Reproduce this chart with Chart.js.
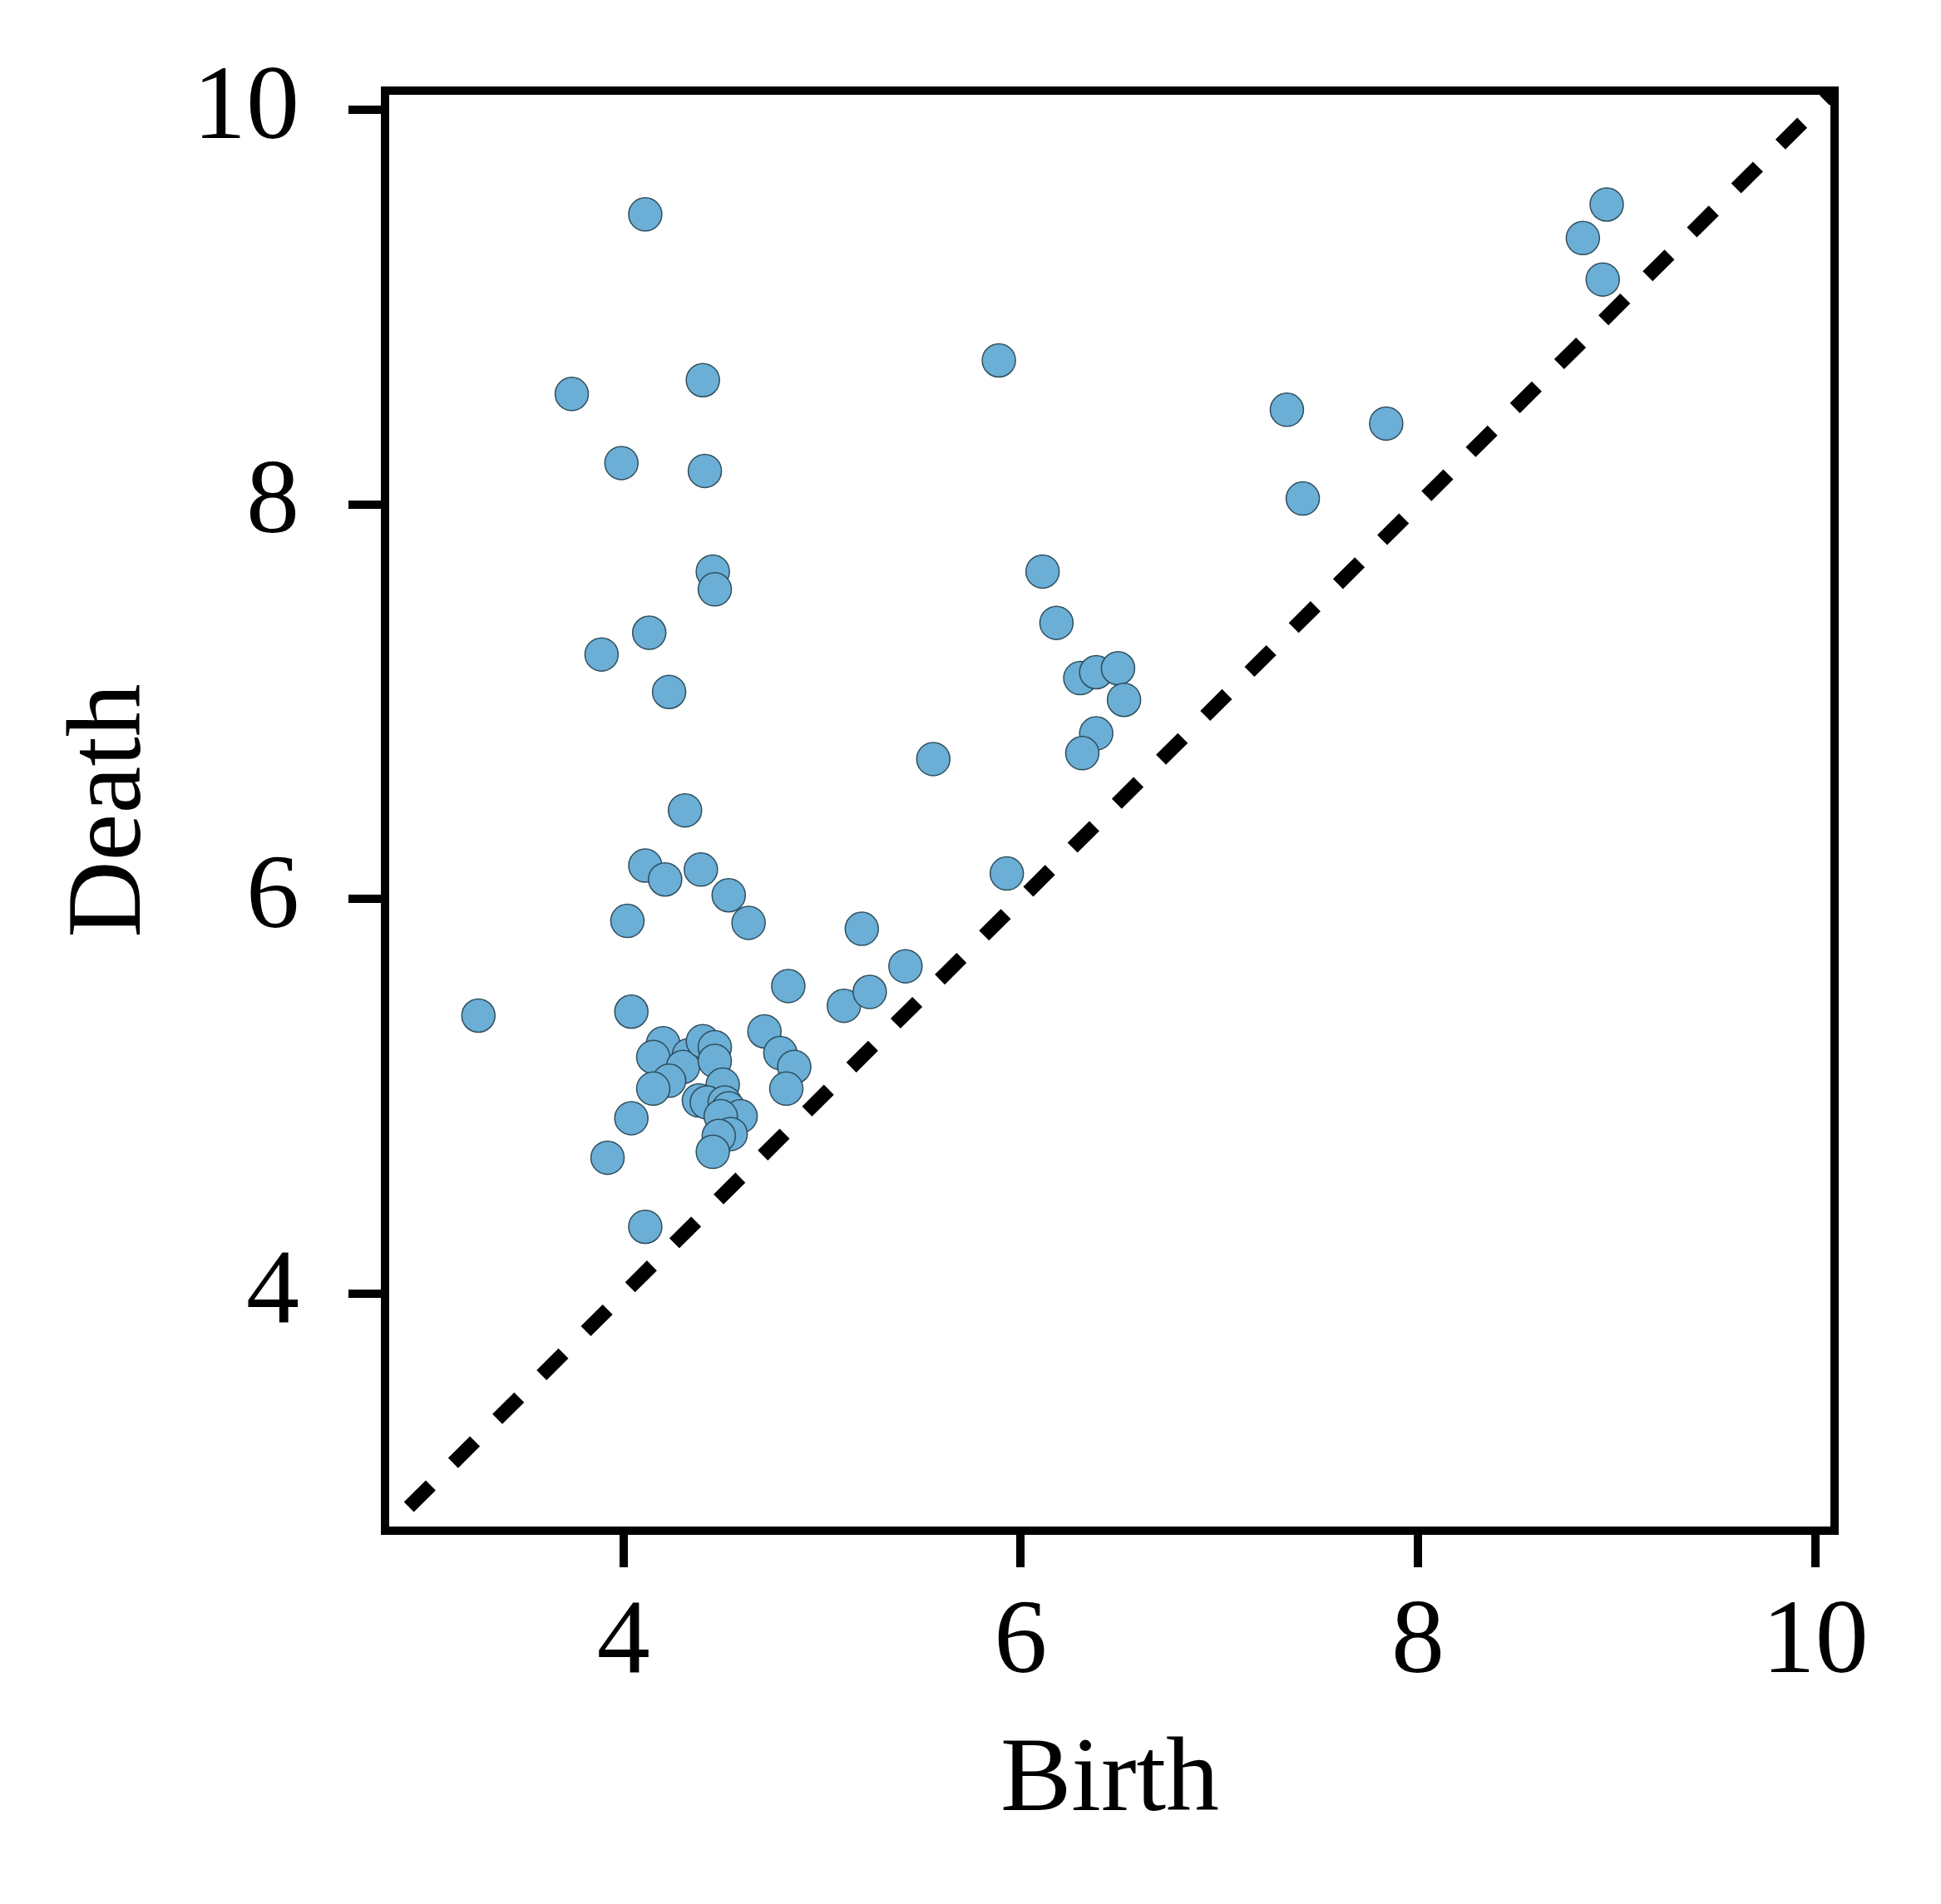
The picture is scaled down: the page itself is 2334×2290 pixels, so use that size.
<!DOCTYPE html>
<html>
<head>
<meta charset="utf-8">
<script src="https://cdn.jsdelivr.net/npm/chart.js@4"></script>
<style>
  html, body { margin: 0; padding: 0; background: #fff; }
  #wrap { width: 2334px; height: 2290px; }
</style>
</head>
<body>
<div id="wrap"><canvas id="c" width="2334" height="2290"></canvas></div>
<script>
// persistence points
const birth = [
  3.27, 4.11, 3.74, 4.40, 3.99, 4.41, 4.45, 4.46, 3.89, 4.13,
  4.23, 4.31, 4.11, 4.21, 4.39, 4.53, 4.02, 4.63,
  4.04, 4.20, 4.15, 4.33, 4.30, 4.23, 4.15, 4.40, 4.46, 4.46,
  4.50, 4.38, 4.42, 4.51, 4.53, 4.59, 4.49, 4.54, 4.48, 4.45,
  4.04, 3.92, 4.71, 4.79, 4.86, 4.82, 4.83,
  5.11, 5.24, 5.20, 5.42, 5.56, 5.93, 5.89,
  6.11, 6.18, 6.30, 6.38, 6.49, 6.52, 6.38, 6.31,
  7.34, 7.42, 7.84, 8.83, 8.95, 8.93, 4.11
];
const death = [
  5.41, 9.47, 8.56, 8.63, 8.21, 8.17, 7.66, 7.57, 7.24, 7.35,
  7.05, 6.45, 6.17, 6.10, 6.15, 6.02, 5.89, 5.88,
  5.43, 5.27, 5.20, 5.21, 5.15, 5.08, 5.04, 5.28, 5.25, 5.18,
  5.06, 4.98, 4.97, 4.97, 4.94, 4.90, 4.90, 4.81, 4.80, 4.72,
  4.89, 4.69, 5.33, 5.22, 5.15, 5.04, 5.56,
  5.46, 5.53, 5.85, 5.66, 6.71, 6.13, 8.73,
  7.66, 7.40, 7.12, 7.15, 7.17, 7.01, 6.84, 6.74,
  8.48, 8.03, 8.41, 9.35, 9.52, 9.14, 4.34
];
const tickValues = [4, 6, 8, 10];
const axisRange = [2.8, 10.097];
const diagonal = [2.92, 10.1];

const points = birth.map((b, i) => ({ x: b, y: death[i] }));
const diagPoints = diagonal.map(v => ({ x: v, y: v }));

const serif = "'Liberation Serif', 'DejaVu Serif', serif";
const fontSize = 128;

// square frame round the plot area, like matplotlib spines
const frame = {
  id: 'frame',
  afterDatasetsDraw(chart) {
    const a = chart.chartArea;
    const ctx = chart.ctx;
    ctx.save();
    ctx.strokeStyle = '#000';
    ctx.lineWidth = 10;
    ctx.strokeRect(a.left, a.top, a.right - a.left, a.bottom - a.top);
    ctx.restore();
  }
};

new Chart(document.getElementById('c'), {
  data: {
    datasets: [
      {
        type: 'scatter',
        data: points,
        backgroundColor: '#6baed6',
        borderColor: 'rgba(40,72,84,0.95)',
        borderWidth: 1.5,
        pointRadius: 20,
        pointHoverRadius: 20,
        order: 1
      },
      {
        type: 'line',
        data: diagPoints,
        borderColor: '#000',
        borderWidth: 17,
        borderDash: [37, 38],
        borderCapStyle: 'butt',
        pointRadius: 0,
        fill: false,
        clip: 0,
        order: 2
      }
    ]
  },
  plugins: [frame],
  options: {
    responsive: false,
    animation: false,
    devicePixelRatio: 1,
    layout: { padding: { top: 109, right: 128, left: 0, bottom: 0 } },
    plugins: { legend: { display: false }, tooltip: { enabled: false } },
    scales: {
      x: {
        type: 'linear',
        min: axisRange[0],
        max: axisRange[1],
        afterBuildTicks(s) { s.ticks = tickValues.map(v => ({ value: v })); },
        afterFit(s) { s.height = 449; s.paddingLeft = 0; s.paddingRight = 0; },
        border: { display: false },
        grid: { drawOnChartArea: false, drawTicks: true, tickLength: 44, lineWidth: 10, color: '#000' },
        ticks: { color: '#000', padding: 16, maxRotation: 0, font: { family: serif, size: fontSize } },
        title: { display: true, text: 'Birth', color: '#000', padding: { top: 0, bottom: 70 }, font: { family: serif, size: fontSize } }
      },
      y: {
        type: 'linear',
        min: axisRange[0],
        max: axisRange[1],
        afterBuildTicks(s) { s.ticks = tickValues.map(v => ({ value: v })); },
        afterFit(s) { s.width = 463; s.paddingTop = 0; s.paddingBottom = 0; },
        border: { display: false },
        grid: { drawOnChartArea: false, drawTicks: true, tickLength: 44, lineWidth: 10, color: '#000' },
        ticks: { color: '#000', padding: 59, font: { family: serif, size: fontSize } },
        title: { display: true, text: 'Death', color: '#000', padding: { top: 58, bottom: 0 }, font: { family: serif, size: fontSize } }
      }
    }
  }
});
</script>
</body>
</html>
